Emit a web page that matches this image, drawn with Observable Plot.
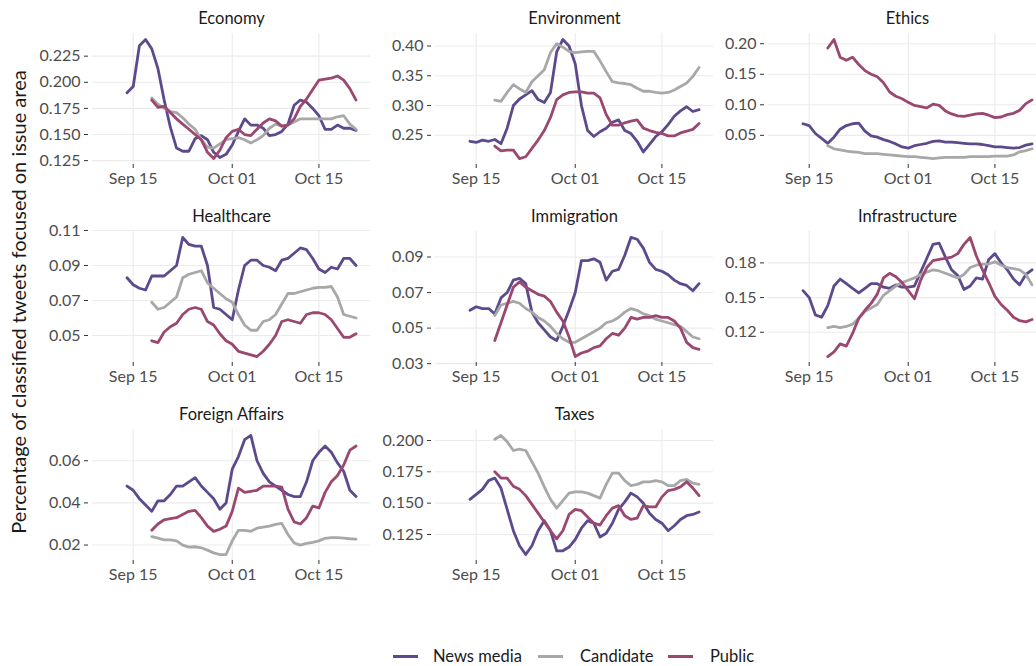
<!DOCTYPE html>
<html><head><meta charset="utf-8">
<script src="https://cdn.jsdelivr.net/npm/d3@7"></script>
<script src="https://cdn.jsdelivr.net/npm/@observablehq/plot@0.6"></script>
<style>
body{margin:0;background:#fff;font-family:Lato,"Noto Sans",sans-serif;}
#root{position:relative;width:1036px;height:666px;overflow:hidden;background:#fff;}
#root svg{position:absolute;overflow:visible;}
#legend .sw{position:absolute;width:25px;height:3px;top:655px;}
#legend .tx{position:absolute;top:656px;transform:translateY(-50%);font-size:16.5px;line-height:18px;color:#1a1a1a;white-space:nowrap;}
</style></head><body><div id="root">
<svg id="overlay" width="1036" height="666" style="left:0;top:0;"><text transform="translate(18,302) rotate(-90)" text-anchor="middle" dominant-baseline="central" font-family="Lato, 'Noto Sans', sans-serif" font-size="20" fill="#1a1a1a">Percentage of classified tweets focused on issue area</text></svg>
<div id="legend"></div></div>
<script>
const seriesNames = ["News media", "Candidate", "Public"];
const seriesColors = ["#5c4a8c", "#a8a8a8", "#9b4870"];
const newsStart = "2016-09-14";
const otherStart = "2016-09-18";
const xTickDates = ["2016-09-15", "2016-10-01", "2016-10-15"];
const xDomainDates = ["2016-09-08T10:12Z", "2016-10-23T08:00Z"];

const topics = ["Economy","Environment","Ethics","Healthcare","Immigration","Infrastructure","Foreign Affairs","Taxes"];

const economyNews = [0.190,0.196,0.235,0.241,0.232,0.213,0.183,0.157,0.137,0.134,0.134,0.146,0.149,0.145,0.133,0.128,0.131,0.140,0.153,0.165,0.159,0.159,0.156,0.149,0.150,0.153,0.160,0.178,0.183,0.181,0.175,0.168,0.155,0.155,0.159,0.156,0.156,0.154];
const economyCandidate = [0.185,0.179,0.175,0.172,0.171,0.166,0.160,0.155,0.145,0.138,0.137,0.141,0.145,0.146,0.147,0.145,0.142,0.145,0.149,0.156,0.160,0.158,0.159,0.162,0.165,0.165,0.165,0.165,0.165,0.165,0.167,0.168,0.160,0.155];
const economyPublic = [0.183,0.176,0.177,0.171,0.165,0.160,0.155,0.150,0.145,0.133,0.127,0.135,0.147,0.153,0.155,0.150,0.149,0.155,0.161,0.165,0.163,0.158,0.159,0.165,0.177,0.184,0.193,0.202,0.203,0.204,0.206,0.202,0.194,0.183];

const environmentNews = [0.240,0.238,0.242,0.240,0.243,0.236,0.262,0.300,0.311,0.318,0.325,0.310,0.305,0.322,0.390,0.411,0.400,0.370,0.300,0.258,0.248,0.256,0.262,0.272,0.276,0.258,0.253,0.240,0.222,0.235,0.248,0.256,0.268,0.282,0.291,0.298,0.290,0.293];
const environmentCandidate = [0.309,0.307,0.322,0.335,0.328,0.322,0.340,0.350,0.360,0.389,0.404,0.398,0.391,0.389,0.390,0.391,0.391,0.375,0.357,0.340,0.338,0.337,0.335,0.329,0.324,0.324,0.322,0.321,0.322,0.326,0.332,0.338,0.349,0.364];
const environmentPublic = [0.232,0.224,0.225,0.225,0.211,0.214,0.228,0.242,0.258,0.280,0.310,0.318,0.322,0.323,0.323,0.321,0.321,0.313,0.285,0.267,0.267,0.271,0.274,0.276,0.262,0.258,0.255,0.253,0.249,0.249,0.254,0.257,0.260,0.270];

const ethicsNews = [0.069,0.066,0.053,0.045,0.037,0.047,0.060,0.066,0.069,0.070,0.057,0.049,0.047,0.043,0.040,0.036,0.031,0.029,0.033,0.035,0.037,0.040,0.041,0.039,0.039,0.038,0.037,0.036,0.036,0.035,0.033,0.031,0.031,0.030,0.029,0.030,0.034,0.036];
const ethicsCandidate = [0.033,0.028,0.026,0.024,0.023,0.022,0.020,0.020,0.020,0.019,0.018,0.017,0.016,0.015,0.015,0.014,0.013,0.012,0.013,0.014,0.014,0.014,0.014,0.015,0.015,0.015,0.015,0.016,0.016,0.016,0.018,0.023,0.025,0.028];
const ethicsPublic = [0.193,0.207,0.178,0.173,0.178,0.166,0.156,0.150,0.146,0.136,0.121,0.114,0.110,0.104,0.099,0.097,0.095,0.101,0.099,0.090,0.085,0.082,0.081,0.083,0.085,0.086,0.083,0.079,0.080,0.084,0.086,0.091,0.102,0.108];

const healthcareNews = [0.083,0.079,0.077,0.076,0.084,0.084,0.084,0.087,0.090,0.106,0.102,0.101,0.101,0.090,0.066,0.065,0.062,0.059,0.076,0.090,0.093,0.093,0.090,0.089,0.087,0.093,0.094,0.097,0.100,0.099,0.094,0.088,0.086,0.089,0.088,0.094,0.094,0.090];
const healthcareCandidate = [0.069,0.065,0.066,0.069,0.072,0.083,0.085,0.086,0.087,0.080,0.077,0.074,0.071,0.069,0.062,0.056,0.053,0.053,0.058,0.059,0.062,0.068,0.074,0.074,0.075,0.076,0.077,0.0775,0.0775,0.078,0.072,0.062,0.061,0.060];
const healthcarePublic = [0.047,0.046,0.052,0.055,0.057,0.062,0.065,0.066,0.065,0.058,0.056,0.051,0.047,0.045,0.041,0.040,0.039,0.038,0.041,0.045,0.050,0.058,0.059,0.058,0.057,0.062,0.063,0.063,0.062,0.059,0.054,0.049,0.049,0.051];

const immigrationNews = [0.060,0.062,0.061,0.061,0.058,0.067,0.070,0.077,0.078,0.075,0.059,0.053,0.049,0.045,0.043,0.051,0.060,0.070,0.088,0.088,0.089,0.087,0.077,0.082,0.083,0.091,0.101,0.100,0.095,0.087,0.083,0.082,0.080,0.077,0.075,0.074,0.071,0.075];
const immigrationCandidate = [0.057,0.063,0.064,0.065,0.064,0.061,0.059,0.056,0.054,0.051,0.047,0.044,0.042,0.042,0.044,0.046,0.048,0.050,0.053,0.054,0.056,0.059,0.061,0.060,0.058,0.057,0.055,0.054,0.053,0.052,0.051,0.048,0.045,0.044];
const immigrationPublic = [0.043,0.053,0.063,0.073,0.076,0.073,0.071,0.069,0.068,0.065,0.059,0.054,0.045,0.034,0.036,0.037,0.039,0.040,0.044,0.047,0.046,0.050,0.056,0.055,0.056,0.056,0.057,0.056,0.056,0.054,0.050,0.042,0.039,0.038];

const infrastructureNews = [0.156,0.150,0.135,0.133,0.143,0.160,0.166,0.162,0.158,0.154,0.158,0.162,0.162,0.159,0.158,0.161,0.159,0.159,0.160,0.172,0.184,0.196,0.197,0.185,0.174,0.169,0.157,0.160,0.167,0.166,0.183,0.188,0.180,0.174,0.166,0.161,0.170,0.174];
const infrastructureCandidate = [0.124,0.125,0.124,0.125,0.127,0.132,0.138,0.141,0.144,0.152,0.156,0.160,0.163,0.165,0.167,0.170,0.172,0.174,0.173,0.171,0.169,0.167,0.170,0.176,0.178,0.179,0.179,0.181,0.178,0.176,0.175,0.174,0.170,0.161];
const infrastructurePublic = [0.099,0.103,0.110,0.108,0.119,0.132,0.139,0.145,0.153,0.167,0.171,0.168,0.163,0.156,0.149,0.165,0.176,0.182,0.183,0.184,0.185,0.188,0.196,0.202,0.186,0.174,0.163,0.151,0.144,0.139,0.133,0.130,0.129,0.131];

const foreignNews = [0.048,0.046,0.042,0.039,0.036,0.041,0.041,0.044,0.048,0.048,0.050,0.052,0.048,0.045,0.042,0.037,0.040,0.056,0.062,0.070,0.072,0.060,0.054,0.050,0.048,0.046,0.044,0.043,0.043,0.050,0.060,0.064,0.067,0.064,0.059,0.055,0.046,0.043];
const foreignCandidate = [0.024,0.0233,0.0225,0.0225,0.022,0.020,0.019,0.0192,0.0187,0.0176,0.0163,0.0155,0.0155,0.022,0.027,0.027,0.0265,0.028,0.0285,0.029,0.0298,0.0303,0.025,0.021,0.020,0.0208,0.0213,0.022,0.0232,0.0235,0.0235,0.0233,0.023,0.0228];
const foreignPublic = [0.027,0.030,0.032,0.0325,0.033,0.0345,0.036,0.0365,0.033,0.029,0.0265,0.0275,0.029,0.036,0.047,0.045,0.0455,0.046,0.048,0.048,0.048,0.0475,0.037,0.031,0.030,0.033,0.0385,0.0376,0.045,0.050,0.053,0.058,0.065,0.067];

const taxesNews = [0.153,0.157,0.161,0.168,0.170,0.162,0.145,0.128,0.116,0.109,0.116,0.128,0.136,0.128,0.112,0.112,0.115,0.121,0.130,0.136,0.134,0.123,0.126,0.134,0.145,0.151,0.158,0.155,0.150,0.142,0.137,0.134,0.128,0.132,0.137,0.140,0.141,0.143];
const taxesCandidate = [0.201,0.204,0.199,0.192,0.193,0.192,0.183,0.174,0.163,0.153,0.146,0.152,0.158,0.159,0.159,0.158,0.156,0.154,0.165,0.174,0.174,0.168,0.164,0.165,0.167,0.167,0.168,0.167,0.164,0.164,0.168,0.169,0.166,0.165];
const taxesPublic = [0.175,0.170,0.170,0.1635,0.161,0.156,0.149,0.142,0.135,0.128,0.1215,0.128,0.141,0.145,0.144,0.139,0.134,0.1325,0.140,0.146,0.148,0.140,0.137,0.138,0.148,0.147,0.147,0.155,0.160,0.161,0.163,0.167,0.162,0.156];

const economyTicks = [0.125,0.150,0.175,0.200,0.225];
const environmentTicks = [0.25,0.30,0.35,0.40];
const ethicsTicks = [0.05,0.10,0.15,0.20];
const healthcareTicks = [0.05,0.07,0.09,0.11];
const immigrationTicks = [0.03,0.05,0.07,0.09];
const infrastructureTicks = [0.12,0.15,0.18];
const foreignTicks = [0.02,0.04,0.06];
const taxesTicks = [0.125,0.150,0.175,0.200];

const panels = [
  {title: topics[0], news: economyNews, cand: economyCandidate, pub: economyPublic, ticks: economyTicks, fmt: ".3f"},
  {title: topics[1], news: environmentNews, cand: environmentCandidate, pub: environmentPublic, ticks: environmentTicks, fmt: ".2f"},
  {title: topics[2], news: ethicsNews, cand: ethicsCandidate, pub: ethicsPublic, ticks: ethicsTicks, fmt: ".2f"},
  {title: topics[3], news: healthcareNews, cand: healthcareCandidate, pub: healthcarePublic, ticks: healthcareTicks, fmt: ".2f"},
  {title: topics[4], news: immigrationNews, cand: immigrationCandidate, pub: immigrationPublic, ticks: immigrationTicks, fmt: ".2f"},
  {title: topics[5], news: infrastructureNews, cand: infrastructureCandidate, pub: infrastructurePublic, ticks: infrastructureTicks, fmt: ".2f"},
  {title: topics[6], news: foreignNews, cand: foreignCandidate, pub: foreignPublic, ticks: foreignTicks, fmt: ".2f"},
  {title: topics[7], news: taxesNews, cand: taxesCandidate, pub: taxesPublic, ticks: taxesTicks, fmt: ".3f"}
];

const root = document.getElementById("root");
const colLeft = [92, 435, 768];
const rowTop = [33, 231, 429];
const frameW = 278, frameH = 131;
const mL = 60, mR = 2, mT = 30, mB = 32;
const xTicks = xTickDates.map(d => new Date(d));
const xDomain = xDomainDates.map(d => new Date(d));

function rows(values, start, series) {
  const s = new Date(start);
  return values.map((v, i) => ({date: d3.utcDay.offset(s, i), value: v, series}));
}

panels.forEach((p, i) => {
  const r = Math.floor(i / 3), c = i % 3;
  const data = rows(p.news, newsStart, seriesNames[0])
    .concat(rows(p.cand, otherStart, seriesNames[1]))
    .concat(rows(p.pub, otherStart, seriesNames[2]));
  const [lo, hi] = d3.extent(data, d => d.value);
  const pad = (hi - lo) * 0.05;
  const svg = Plot.plot({
    width: mL + frameW + mR,
    height: mT + frameH + mB,
    marginLeft: mL, marginRight: mR, marginTop: mT, marginBottom: mB,
    style: {fontFamily: "Lato, 'Noto Sans', sans-serif", fontSize: "16px", color: "#4d4d4d", background: "transparent", overflow: "visible"},
    x: {type: "utc", domain: xDomain},
    y: {domain: [lo - pad, hi + pad]},
    color: {domain: seriesNames, range: seriesColors},
    marks: [
      Plot.gridX(xTicks, {stroke: "#ebebeb", strokeOpacity: 1, strokeWidth: 1.1}),
      Plot.gridY(p.ticks, {stroke: "#ebebeb", strokeOpacity: 1, strokeWidth: 1.1}),
      Plot.axisX(xTicks, {tickFormat: d3.utcFormat("%b %d"), tickSize: 4, tickPadding: 4, label: null, stroke: "#333"}),
      Plot.axisY(p.ticks, {tickFormat: d3.format(p.fmt), tickSize: 4, tickPadding: 4, dx: -4, label: null, stroke: "#333"}),
      Plot.line(data, {x: "date", y: "value", z: "series", stroke: "series", strokeWidth: 2.8}),
      Plot.text([p.title], {text: d => d, frameAnchor: "top", dy: -15, fontSize: 16.5, fontWeight: 400, fill: "#1a1a1a", lineAnchor: "middle"})
    ]
  });
  svg.style.left = (colLeft[c] - mL) + "px";
  svg.style.top = (rowTop[r] - mT) + "px";
  root.appendChild(svg);
});

const legend = document.getElementById("legend");
const swatchX = [393, 538, 668];
const labelX = [433, 580, 710];
seriesNames.forEach((n, i) => {
  const sw = document.createElement("div");
  sw.className = "sw";
  sw.style.left = swatchX[i] + "px";
  sw.style.background = seriesColors[i];
  legend.appendChild(sw);
  const tx = document.createElement("div");
  tx.className = "tx";
  tx.style.left = labelX[i] + "px";
  tx.textContent = n;
  legend.appendChild(tx);
});
</script>
</body></html>
